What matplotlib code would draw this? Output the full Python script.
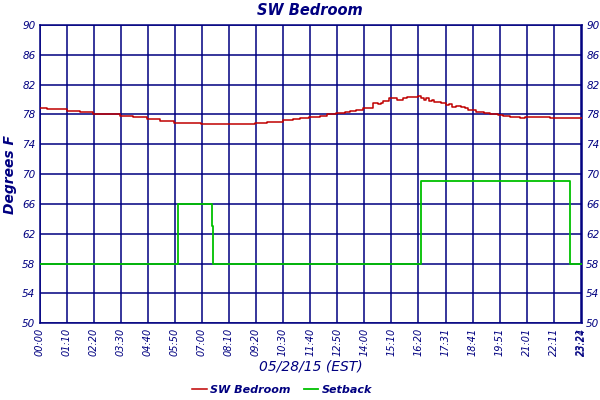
import matplotlib
matplotlib.use("Agg")
import matplotlib.pyplot as plt

# SW Bedroom temperature, minutes after midnight -> deg F
temp_min = [0, 20, 35, 70, 105, 139, 174, 208, 243, 277, 312, 348, 381, 418,
            450, 488, 519, 558, 588, 629, 656, 674, 698, 726, 745, 767, 790,
            804, 820, 838, 850, 864, 875, 884, 890, 900, 905, 915, 925, 935,
            940, 950, 960, 970, 980, 988, 995, 1000, 1008, 1015, 1022, 1030,
            1038, 1045, 1052, 1060, 1068, 1078, 1090, 1100, 1110, 1120, 1130,
            1140, 1150, 1165, 1175, 1187, 1200, 1218, 1230, 1244, 1257, 1270,
            1291, 1320, 1360, 1404]
temp_val = [78.9, 78.8, 78.7, 78.5, 78.3, 78.1, 78.0, 77.8, 77.6, 77.45, 77.1,
            76.9, 76.8, 76.7, 76.7, 76.75, 76.75, 76.9, 77.0, 77.3, 77.35, 77.5,
            77.7, 77.85, 78.0, 78.2, 78.3, 78.5, 78.6, 78.85, 78.9, 79.5, 79.45,
            79.55, 79.8, 79.75, 80.2, 80.2, 80.0, 80.0, 80.25, 80.3, 80.4, 80.35,
            80.45, 80.2, 80.0, 80.15, 79.8, 79.9, 79.7, 79.7, 79.5, 79.55, 79.25,
            79.35, 79.05, 79.1, 79.0, 78.85, 78.6, 78.55, 78.35, 78.4, 78.2,
            78.1, 78.05, 77.95, 77.85, 77.7, 77.65, 77.55, 77.65, 77.6, 77.6,
            77.55, 77.55, 77.55]

# setback schedule
setback_min = [0, 359, 447, 449, 986, 988, 1373, 1404]
setback_val = [58, 66, 63, 58, 63, 69.1, 58, 58]

tick_labels = ["00:00", "01:10", "02:20", "03:30", "04:40", "05:50", "07:00",
               "08:10", "09:20", "10:30", "11:40", "12:50", "14:00", "15:10",
               "16:20", "17:31", "18:41", "19:51", "21:01", "22:11", "23:21",
               "23:24"]
y_ticks = [50, 54, 58, 62, 66, 70, 74, 78, 82, 86, 90]

navy = "#000080"
fnt = "DejaVu Sans"


def to_min(s):
    h, m = s.split(":")
    return int(h) * 60 + int(m)


x_ticks = [to_min(s) for s in tick_labels]

fig = plt.figure(figsize=(6, 4), dpi=100)
ax = fig.add_axes([39.6 / 600, 1 - 323.3 / 400, (582 - 39.6) / 600, (323.3 - 25) / 400])

ax.plot(temp_min, temp_val, color="#c00000", lw=1.1, drawstyle="steps-post",
        label="SW Bedroom", zorder=3)
ax.plot(setback_min, setback_val, color="#00c000", lw=1.3, drawstyle="steps-post",
        label="Setback", zorder=3)

ax.set_xlim(0, 1404)
ax.set_ylim(50, 90)
ax.set_xticks(x_ticks)
ax.set_xticklabels(tick_labels, rotation=90, fontsize=7, style="italic",
                   color=navy, family=fnt)
ax.set_yticks(y_ticks)
ax.set_yticklabels([str(v) for v in y_ticks], fontsize=7.5, style="italic",
                   color=navy, family=fnt)
ax.tick_params(length=0, pad=3, labelright=True)
ax.grid(True, color=navy, lw=1.1)
ax.set_axisbelow(True)
for s in ax.spines.values():
    s.set_color(navy)
    s.set_linewidth(1.1)

ax.set_xlabel("05/28/15 (EST)", fontsize=10, style="italic", color=navy,
              family=fnt, labelpad=3)
ax.set_ylabel("Degrees F", fontsize=10, style="italic", weight="bold",
              color=navy, family=fnt, labelpad=4)
fig.text(0.517, 0.973, "SW Bedroom", ha="center", va="center", fontsize=10.5,
         style="italic", weight="bold", color=navy, family=fnt)

leg = fig.legend(loc="center", bbox_to_anchor=(0.47, 1 - 390 / 400), ncol=2,
                 frameon=False, handlelength=1.3, handletextpad=0.3,
                 columnspacing=1.2,
                 prop={"family": fnt, "style": "italic", "weight": "bold", "size": 8})
for t in leg.get_texts():
    t.set_color(navy)

fig.savefig("out.png", dpi=100)
